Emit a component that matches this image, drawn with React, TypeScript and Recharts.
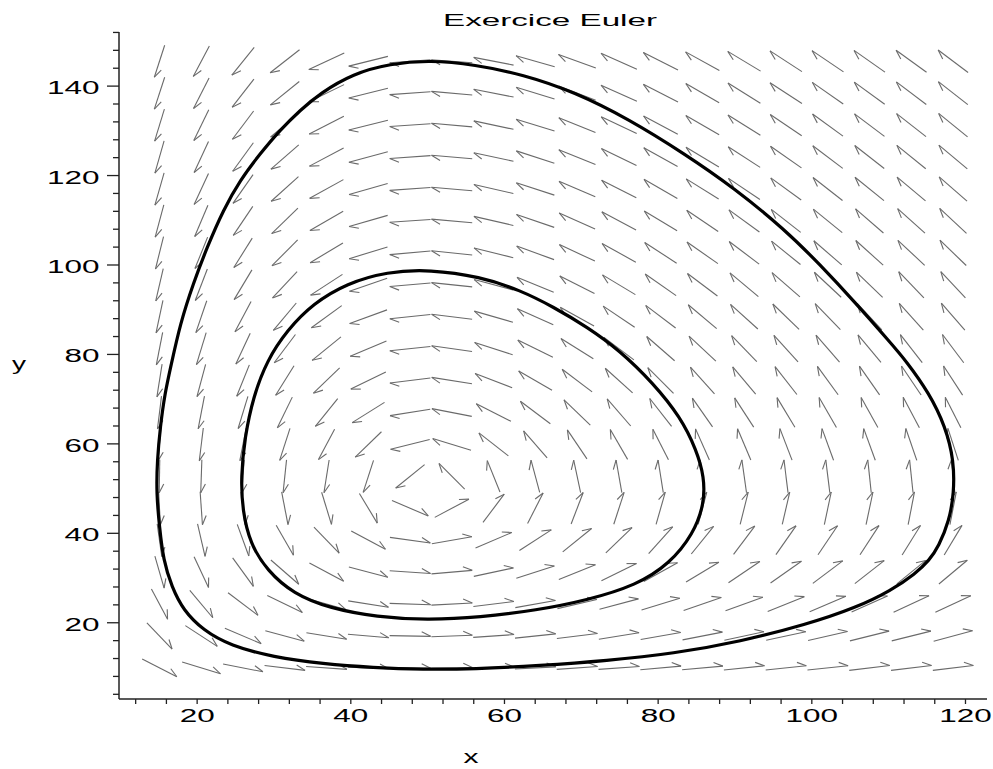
import { Scatter, ScatterChart, XAxis, YAxis } from "recharts";

// Champ de directions + deux trajectoires (Euler)

const xTicks = [12, 16, 20, 24, 28, 32, 36, 40, 44, 48, 52, 56, 60, 64, 68, 72, 76, 80, 84, 88, 92, 96, 100, 104, 108, 112, 116, 120];
const yTicks = [4, 8, 12, 16, 20, 24, 28, 32, 36, 40, 44, 48, 52, 56, 60, 64, 68, 72, 76, 80, 84, 88, 92, 96, 100, 104, 108, 112, 116, 120, 124, 128, 132, 136, 140, 144, 148, 152];
const xLabelled = [20, 40, 60, 80, 100, 120];
const yLabelled = [20, 40, 60, 80, 100, 120, 140];

// grid of the direction field
const arrowColumns = [15.1, 20.54, 25.97, 31.41, 36.84, 42.28, 47.72, 53.15, 58.59, 64.02, 69.46, 74.9, 80.33, 85.77, 91.2, 96.64, 102.08, 107.51, 112.95, 118.39];
const arrowRows = [9.9, 17.04, 24.18, 31.32, 38.46, 45.6, 52.74, 59.88, 67.02, 74.16, 81.3, 88.44, 95.58, 102.72, 109.86, 117.0, 124.14, 131.28, 138.42, 145.56];

// arrow direction in degrees (counter-clockwise from +x, as seen on screen), bottom row first
const arrowAngles = [
  [-27, -17, -11, -7, -4, -2, -1, 1, 2, 3, 4, 4, 5, 5, 6, 6, 6, 7, 7, 7],
  [-46, -33, -23, -15, -9, -5, -1, 2, 4, 6, 7, 9, 10, 11, 12, 12, 13, 14, 14, 15],
  [-62, -50, -37, -26, -16, -9, -2, 3, 7, 10, 13, 15, 17, 19, 20, 22, 23, 24, 25, 25],
  [-74, -65, -54, -41, -28, -15, -4, 5, 12, 18, 22, 26, 29, 31, 34, 35, 37, 38, 39, 40],
  [-82, -77, -70, -60, -46, -28, -8, 10, 23, 33, 39, 44, 48, 51, 53, 55, 56, 57, 58, 59],
  [-87, -86, -83, -79, -73, -59, -23, 28, 53, 63, 69, 72, 74, 75, 76, 77, 78, 78, 79, 79],
  [269, 268, 266, 264, 261, 252, 219, 135, 112, 105, 102, 100, 99, 98, 98, 97, 97, 96, 96, 96],
  [265, 263, 259, 252, 242, 224, 194, 163, 142, 131, 124, 120, 117, 114, 113, 111, 110, 110, 109, 108],
  [263, 259, 253, 244, 231, 212, 189, 169, 153, 143, 136, 131, 128, 125, 123, 121, 120, 119, 118, 117],
  [261, 255, 248, 238, 224, 206, 187, 171, 159, 150, 143, 138, 135, 132, 130, 128, 126, 125, 124, 123],
  [259, 253, 245, 233, 219, 203, 186, 172, 162, 154, 148, 143, 139, 137, 134, 132, 131, 130, 128, 127],
  [258, 251, 242, 230, 216, 200, 186, 173, 164, 156, 151, 146, 143, 140, 138, 136, 134, 133, 132, 131],
  [257, 249, 239, 227, 213, 199, 185, 174, 165, 158, 153, 149, 145, 143, 140, 139, 137, 136, 134, 133],
  [256, 248, 238, 225, 211, 197, 185, 174, 166, 160, 155, 151, 147, 145, 143, 141, 139, 138, 137, 136],
  [255, 247, 236, 224, 210, 196, 184, 175, 167, 161, 156, 152, 149, 146, 144, 142, 141, 139, 138, 137],
  [254, 245, 235, 222, 209, 196, 184, 175, 167, 162, 157, 153, 150, 148, 146, 144, 142, 141, 140, 139],
  [254, 245, 234, 221, 208, 195, 184, 175, 168, 162, 158, 154, 151, 149, 147, 145, 143, 142, 141, 140],
  [253, 244, 233, 220, 207, 194, 184, 175, 168, 163, 158, 155, 152, 150, 148, 146, 144, 143, 142, 141],
  [252, 243, 232, 219, 206, 194, 184, 175, 169, 163, 159, 156, 153, 150, 148, 147, 145, 144, 143, 142],
  [252, 242, 231, 218, 205, 194, 184, 176, 169, 164, 160, 156, 153, 151, 149, 147, 146, 145, 144, 143],
];

// outer orbit, traced counter-clockwise from the top (closed loop)
const outerOrbit: [number, number][] = [
  [56.1, 144.8], [50.3, 145.8], [45.1, 145.0], [40.3, 142.8], [36.0, 138.4], [33.4, 134.6],
  [30.8, 130.2], [28.2, 124.9], [25.6, 119.0], [23.4, 112.3], [21.3, 104.0], [19.5, 95.9],
  [17.8, 86.9], [16.6, 77.5], [15.8, 71.3], [15.2, 63.8], [14.8, 56.3], [14.7, 48.9],
  [15.1, 41.4], [15.6, 34.0], [16.7, 28.0], [18.2, 22.8], [20.8, 18.3], [24.3, 14.9],
  [29.9, 12.3], [36.4, 10.8], [42.9, 9.96], [49.4, 9.55], [56.0, 9.65], [64.6, 10.4],
  [73.3, 11.5], [82.0, 13.1], [90.7, 15.8], [99.3, 19.6], [105.8, 23.4], [110.3, 27.2],
  [113.5, 31.0], [115.3, 34.0], [116.5, 37.0], [117.9, 42.9], [118.5, 48.9], [118.5, 56.3],
  [117.4, 63.8], [115.3, 71.3], [112.2, 78.7], [110.3, 82.5], [105.6, 91.7], [101.0, 100.2],
  [96.5, 107.9], [89.9, 117.2], [83.4, 124.9], [76.2, 132.6], [69.1, 138.7], [62.4, 142.6],
];

const innerOrbit: [number, number][] = [
  [56.8, 97.4], [50.3, 99.0], [44.7, 98.5], [39.5, 95.9], [35.1, 91.4], [31.7, 85.4],
  [29.1, 78.7], [27.3, 70.5], [26.2, 61.5], [25.7, 52.6], [25.9, 45.1], [26.9, 37.7],
  [29.1, 31.7], [32.5, 26.5], [37.3, 23.2], [43.4, 21.3], [49.9, 20.6], [56.8, 21.2],
  [64.2, 22.8], [70.7, 25.0], [77.2, 28.4], [81.5, 33.2], [84.6, 39.9], [86.0, 46.6],
  [86.0, 52.6], [85.0, 58.6], [82.9, 66.0], [79.4, 73.5], [75.0, 80.9], [70.7, 86.2],
  [66.4, 90.6], [62.0, 94.4],
];

const arrowData = arrowRows.flatMap((y, i) =>
  arrowColumns.map((x, j) => ({ x, y, angle: arrowAngles[i][j] }))
);
const outerData = outerOrbit.map(([x, y]) => ({ x, y }));
const innerData = innerOrbit.map(([x, y]) => ({ x, y }));

const FONT = "'Liberation Sans', Arial, Helvetica, sans-serif";
const AXIS = "#222";
const ARROW = "#6a6a6a";

// Maple-style thin arrow: shaft + one barb on the left side
function ArrowShape(props: any) {
  const { cx, cy, payload } = props;
  if (cx == null || cy == null || !payload) return <g />;
  const t = (payload.angle * Math.PI) / 180;
  const c = Math.cos(t);
  const s = Math.sin(t);
  const len = 1 / Math.sqrt((c / 41) ** 2 + (s / 33) ** 2);
  const x1 = cx - (c * len) / 2;
  const y1 = cy + (s * len) / 2;
  const x2 = cx + (c * len) / 2;
  const y2 = cy - (s * len) / 2;
  const b = t + Math.PI - (26 * Math.PI) / 180;
  const bx = x2 + 10 * Math.cos(b);
  const by = y2 - 10 * Math.sin(b);
  return (
    <g>
      <line x1={x1} y1={y1} x2={x2} y2={y2} stroke={ARROW} strokeWidth={1.1} />
      <line x1={x2} y1={y2} x2={bx} y2={by} stroke={ARROW} strokeWidth={1.1} />
    </g>
  );
}

function XTick(props: any) {
  const { x, y, payload } = props;
  const v = payload.value;
  const major = xLabelled.includes(v);
  const label = String(v);
  return (
    <g>
      <line x1={x} y1={y} x2={x} y2={y + 5} stroke={AXIS} strokeWidth={1.3} />
      {major && (
        <text
          x={x}
          y={y + 23}
          textAnchor="middle"
          fontFamily={FONT}
          fontSize={18}
          fill="#000"
          textLength={17.5 * label.length}
          lengthAdjust="spacingAndGlyphs"
        >
          {label}
        </text>
      )}
    </g>
  );
}

function YTick(props: any) {
  const { x, y, payload } = props;
  const v = payload.value;
  const major = yLabelled.includes(v);
  const label = String(v);
  return (
    <g>
      <line x1={x} y1={y} x2={x - (major ? 12 : 6)} y2={y} stroke={AXIS} strokeWidth={1.3} />
      {major && (
        <text
          x={x - 19.5}
          y={y + 8}
          textAnchor="end"
          fontFamily={FONT}
          fontSize={18}
          fill="#000"
          textLength={17.5 * label.length}
          lengthAdjust="spacingAndGlyphs"
        >
          {label}
        </text>
      )}
    </g>
  );
}

const noDot = () => <g />;

export default function App() {
  return (
    <div style={{ position: "absolute", left: 0, top: 0, width: 993, height: 769, background: "#fff" }}>
      <ScatterChart width={993} height={769} margin={{ top: 32, right: 6, bottom: 0, left: 0 }}>
        <XAxis
          type="number"
          dataKey="x"
          domain={[9.83, 122.8]}
          allowDataOverflow
          ticks={xTicks}
          interval={0}
          height={70}
          tickSize={0}
          tickMargin={0}
          tickLine={false}
          axisLine={{ stroke: AXIS, strokeWidth: 1.5 }}
          tick={<XTick />}
        />
        <YAxis
          type="number"
          dataKey="y"
          domain={[2.95, 152.1]}
          allowDataOverflow
          ticks={yTicks}
          interval={0}
          width={119}
          tickSize={0}
          tickMargin={0}
          tickLine={false}
          axisLine={{ stroke: AXIS, strokeWidth: 1.5 }}
          tick={<YTick />}
        />
        <Scatter data={arrowData} shape={<ArrowShape />} isAnimationActive={false} />
        <Scatter
          data={outerData}
          fill="#000"
          shape={noDot}
          line={{ stroke: "#000", strokeWidth: 3.2 }}
          lineJointType="basisClosed"
          isAnimationActive={false}
        />
        <Scatter
          data={innerData}
          fill="#000"
          shape={noDot}
          line={{ stroke: "#000", strokeWidth: 3.2 }}
          lineJointType="basisClosed"
          isAnimationActive={false}
        />
      </ScatterChart>
      <svg
        width={993}
        height={769}
        style={{ position: "absolute", left: 0, top: 0, pointerEvents: "none" }}
      >
        <text x={550} y={26} textAnchor="middle" fontFamily={FONT} fontSize={17} fill="#000" textLength={214} lengthAdjust="spacingAndGlyphs">
          Exercice Euler
        </text>
        <text x={12} y={370} fontFamily={FONT} fontSize={18} fill="#000" textLength={14} lengthAdjust="spacingAndGlyphs">
          y
        </text>
        <text x={471} y={763} textAnchor="middle" fontFamily={FONT} fontSize={18} fill="#000" textLength={15} lengthAdjust="spacingAndGlyphs">
          x
        </text>
      </svg>
    </div>
  );
}
